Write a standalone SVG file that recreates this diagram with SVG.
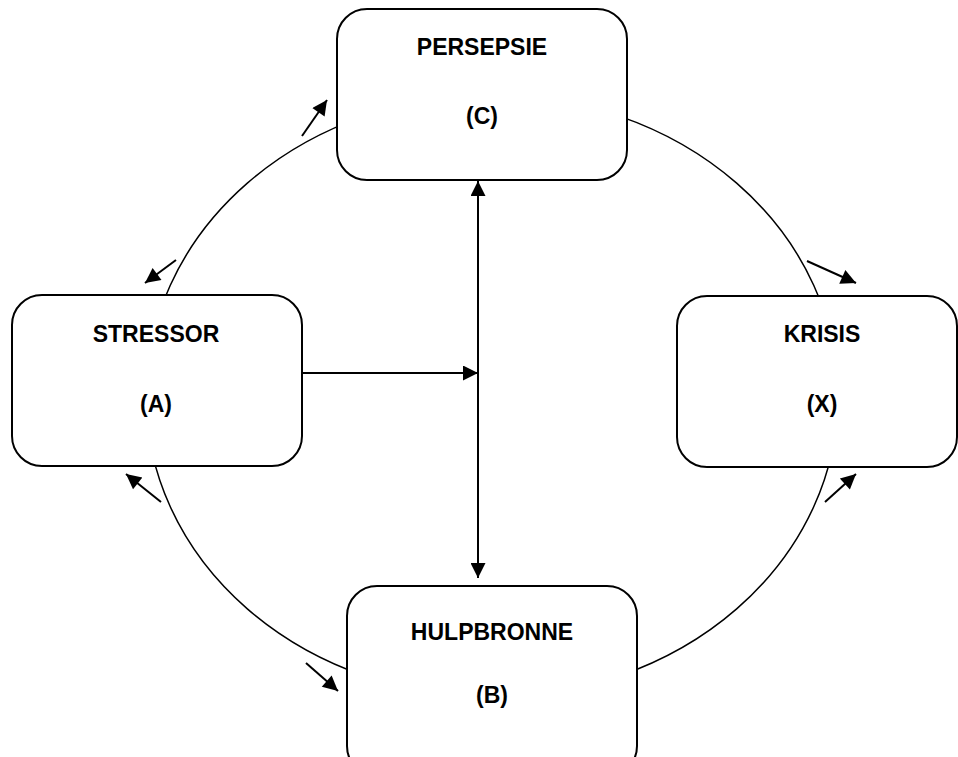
<svg xmlns="http://www.w3.org/2000/svg" width="958" height="757" viewBox="0 0 958 757">
  <defs>
    <marker id="head" viewBox="0 0 10 10" refX="10" refY="5" markerWidth="8.5" markerHeight="7.5" markerUnits="strokeWidth" orient="auto">
      <path d="M0,0 L10,5 L0,10 Z" fill="#000"/>
    </marker>
    <marker id="tail" viewBox="0 0 10 10" refX="0" refY="5" markerWidth="8.5" markerHeight="7.5" markerUnits="strokeWidth" orient="auto">
      <path d="M10,0 L0,5 L10,10 Z" fill="#000"/>
    </marker>
  </defs>
  <style>
    .box { fill: #fff; stroke: #000; stroke-width: 2; }
    .label { font-family: "Liberation Sans", Arial, sans-serif; font-weight: bold; font-size: 23px; fill: #000; text-anchor: middle; }
    .ring { fill: none; stroke: #000; stroke-width: 1.5; }
    .arrow { fill: none; stroke: #000; stroke-width: 2; marker-end: url(#head); }
  </style>
  <rect width="958" height="757" fill="#fff"/>

  <g id="connectors">
    <!-- cycle ring behind the boxes -->
    <ellipse class="ring" cx="492" cy="396" rx="346" ry="301"/>
    <!-- direction markers along the ring -->
    <line class="arrow" x1="302" y1="136" x2="327" y2="100"/>
    <line class="arrow" x1="176" y1="260" x2="145" y2="283"/>
    <line class="arrow" x1="807" y1="261" x2="856" y2="283"/>
    <line class="arrow" x1="825" y1="502" x2="856" y2="474"/>
    <line class="arrow" x1="161" y1="502" x2="126" y2="474"/>
    <line class="arrow" x1="306" y1="663" x2="338" y2="691"/>
    <!-- stressor into the perception/resources axis -->
    <line class="arrow" x1="302" y1="373" x2="478" y2="373"/>
    <line fill="none" stroke="#000" stroke-width="2" x1="478" y1="181" x2="478" y2="578" marker-start="url(#tail)" marker-end="url(#head)"/>
  </g>

  <g id="persepsie">
    <rect class="box" x="337" y="9" width="290" height="171" rx="30" ry="30"/>
    <text class="label" x="482" y="55">PERSEPSIE</text>
    <text class="label" x="482" y="124">(C)</text>
  </g>

  <g id="stressor">
    <rect class="box" x="12" y="295" width="290" height="171" rx="30" ry="30"/>
    <text class="label" x="156" y="342">STRESSOR</text>
    <text class="label" x="156" y="412">(A)</text>
  </g>

  <g id="krisis">
    <rect class="box" x="677" y="296" width="280" height="171" rx="30" ry="30"/>
    <text class="label" x="822" y="342">KRISIS</text>
    <text class="label" x="822" y="412">(X)</text>
  </g>

  <g id="hulpbronne">
    <rect class="box" x="347" y="586" width="290" height="190" rx="30" ry="30"/>
    <text class="label" x="492" y="640">HULPBRONNE</text>
    <text class="label" x="492" y="703">(B)</text>
  </g>
</svg>
